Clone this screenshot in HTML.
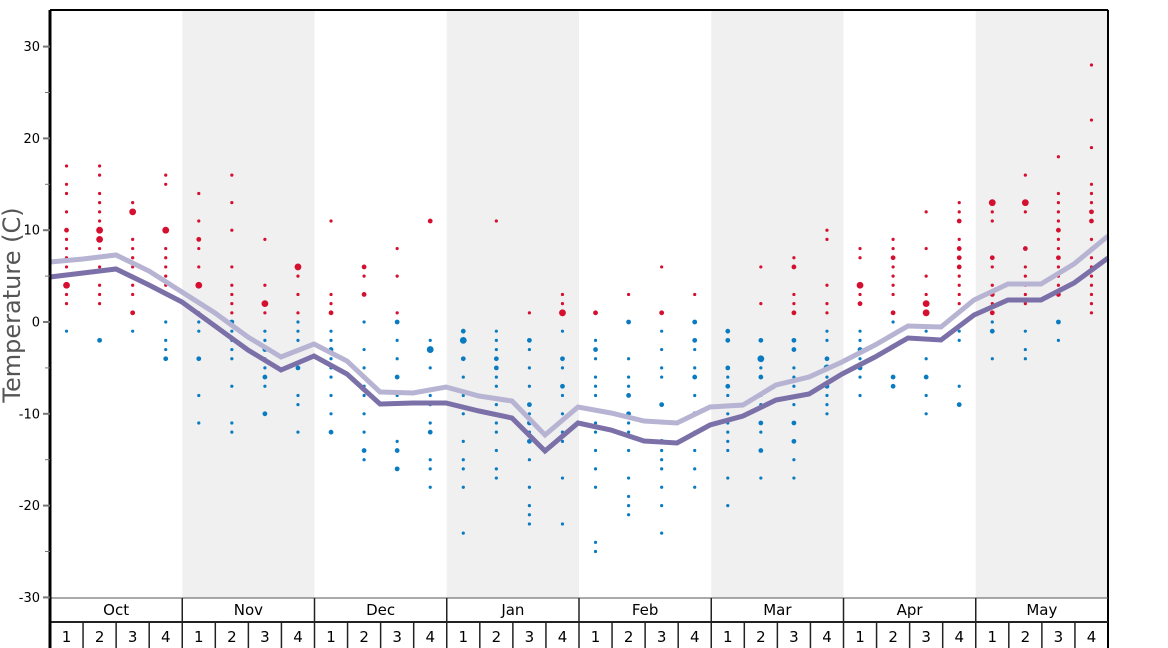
<!DOCTYPE html>
<html><head><meta charset="utf-8"><style>
html,body{margin:0;padding:0;background:#fff;}
svg{display:block;font-family:"DejaVu Sans","Liberation Sans",sans-serif;}
</style></head><body>
<svg id="s" width="1168" height="648" viewBox="0 0 1168 648" xmlns="http://www.w3.org/2000/svg">
<g id="bg"></g><g id="dots"></g><g id="lines"></g><g id="ax"></g>
</svg>
<script>
var NS="http://www.w3.org/2000/svg";
function el(p,t,a,txt){var e=document.createElementNS(NS,t);for(var k in a)e.setAttribute(k,a[k]);if(txt!=null)e.textContent=txt;document.getElementById(p).appendChild(e);return e;}
var X0=50,X1=1108,W=(X1-X0)/32;
function Y(v){return 322-9.18*v;}
// bands
for(var m=1;m<8;m+=2){el("bg","rect",{x:X0+m*4*W,y:10,width:4*W,height:588,fill:"#f0f0f0"});}
// dots
var D=[
"17,15,14,12,10m,9,8,7,6,4b,3,2,-1",
"17,16,14,13,12,11,10b,9b,8,7,6,4,3,2,-2m",
"13,12b,9,8,7,6,5,4,3,1m,-1",
"16,15,10b,8,7,6,5,4,0,-2,-3,-4m",
"14,11,9m,8,6,4b,2,1,0,-1,-4m,-8,-11",
"16,13,10,6,4,3,2,1,0m,-1,-2,-3,-4,-7,-11,-12",
"9,4,2b,1,-1,-2,-3m,-4,-5,-6m,-7,-10m",
"6b,5,3,1,0,-1,-2,-3,-5m,-8,-9,-12",
"11,3,2,1m,-1,-2,-3m,-4,-5,-6,-8,-10,-12m",
"6m,5,3m,0,-3,-5,-6m,-7,-8,-10,-12,-14m,-15",
"8,5,1,0m,-2,-4,-6m,-8,-13,-14m,-16m",
"11m,-2,-3b,-5,-8,-9,-11,-12m,-15,-16,-18",
"-1m,-2b,-4m,-6,-8,-10,-13,-15,-16,-18,-23",
"11,-1,-2,-3,-4m,-5m,-6,-7,-9,-11,-12,-14,-16,-17",
"1,-2m,-3,-5,-7,-9m,-10,-11m,-12,-13m,-15,-18,-20,-21,-22",
"3,2,1b,-1,-4m,-5,-7m,-8,-10,-12,-13,-17,-22",
"1m,-2,-3m,-4,-6,-7,-8,-11,-12,-14,-16,-18,-24,-25",
"3,0m,-4,-6,-7,-8m,-10m,-11,-12,-14,-17,-19,-20,-21",
"6,1m,-1,-3,-5,-6,-9m,-11,-13m,-14,-15,-16,-18,-20,-23",
"3,0m,-2m,-3,-5,-6m,-8,-10m,-12,-14,-16,-18",
"-1m,-2m,-5m,-6,-7m,-8,-10,-11,-12,-13,-14,-17,-20",
"6,2,-2m,-4b,-5,-6m,-8,-9,-11m,-12,-14m,-17",
"7,6m,3,2,1m,-2m,-3m,-5,-6,-7,-9,-11m,-13m,-15,-17",
"10,9,4,2,1,-1,-2,-4m,-5b,-6,-7m,-8,-9,-10",
"8,7,4b,3,2m,-1,-2,-3m,-4,-5m,-6,-8",
"9,8,7m,6,5,4,3,1m,0,-6m,-7m",
"12,8,5,3,2b,1b,-1,-4,-6m,-8,-10",
"13,12,11m,9,8m,7m,6m,5,4,3,2,1,-1,-2,-7,-9m",
"13b,12,11,7m,6,4,3m,2,1m,0,-1m,-4",
"16,13b,12,8m,6,5,4,3,2,-1,-3,-4",
"18,14,13,12,11,10m,9,8,7m,6,5,4,3m,0m,-2",
"28,22,19,15,14,13,12m,11m,9,8,7,6,5,4,3,2,1"];
D.forEach(function(s,i){var cx=X0+W*(i+0.5);s.split(",").forEach(function(t){var sz=t.slice(-1),v=parseFloat(t),r=1.6;if(sz=="m")r=2.4;if(sz=="b")r=3.4;el("dots","circle",{cx:cx,cy:Y(v),r:r,fill:v>0?"#d40f2f":"#0a7bc0"});});});
// lines
var xs=[50,83,116,149,182,215,248,281,314,347,380,413,446,479,512,545,578,611,644,677,710,743,776,809,842,875,908,941,974,1008,1041,1074,1108];
var L=[262,259,255,271,292,313,337,357,344,361,392,393,387,396,401,435,407,413,421,423,407,405,385,377,362,345,326,327,300,284,284,264,236];
var Dk=[277,273,269,285,302,326,350,370,356,374,404,403,403,411,418,451,423,430,441,443,425,416,400,394,374,357,338,340,315,300,300,283,258];
function pts(a){return xs.map(function(x,i){return x+","+a[i];}).join(" ");}
el("lines","polyline",{points:pts(L),fill:"none",stroke:"#b7b3d2","stroke-width":5,"stroke-linejoin":"miter"});
el("lines","polyline",{points:pts(Dk),fill:"none",stroke:"#7c70a8","stroke-width":5,"stroke-linejoin":"miter"});
// frame
el("ax","line",{x1:50,y1:10,x2:1108,y2:10,stroke:"#000","stroke-width":2});
el("ax","line",{x1:1108,y1:10,x2:1108,y2:648,stroke:"#000","stroke-width":2});
el("ax","line",{x1:50,y1:598,x2:1108,y2:598,stroke:"#555","stroke-width":1});
el("ax","line",{x1:50,y1:622,x2:1108,y2:622,stroke:"#222","stroke-width":2});
el("ax","line",{x1:50,y1:10,x2:50,y2:648,stroke:"#000","stroke-width":3});
for(var v=-30;v<=35;v+=5){var y=Y(v);if(y<10)continue;var maj=(v%10==0);el("ax","line",{x1:maj?43:45,y1:y,x2:50,y2:y,stroke:"#777","stroke-width":maj?2:1});if(maj)el("ax","text",{x:40,y:y+4.5,"text-anchor":"end","font-size":13,fill:"#000"},v);}
var mon=["Oct","Nov","Dec","Jan","Feb","Mar","Apr","May"];
for(var m=0;m<8;m++){var x=X0+m*4*W;if(m>0)el("ax","line",{x1:x,y1:598,x2:x,y2:648,stroke:"#222","stroke-width":1.5});el("ax","text",{x:x+2*W,y:615,"text-anchor":"middle","font-size":15,fill:"#000"},mon[m]);
for(var w=0;w<4;w++){var xx=x+w*W;if(w>0)el("ax","line",{x1:xx,y1:622,x2:xx,y2:648,stroke:"#222","stroke-width":1.5});el("ax","text",{x:xx+W/2,y:642,"text-anchor":"middle","font-size":15,fill:"#000"},w+1);}}
el("ax","text",{x:0,y:0,transform:"translate(20,305) rotate(-90)","text-anchor":"middle","font-size":24,fill:"#555"},"Temperature (C)");
</script>
</body></html>
